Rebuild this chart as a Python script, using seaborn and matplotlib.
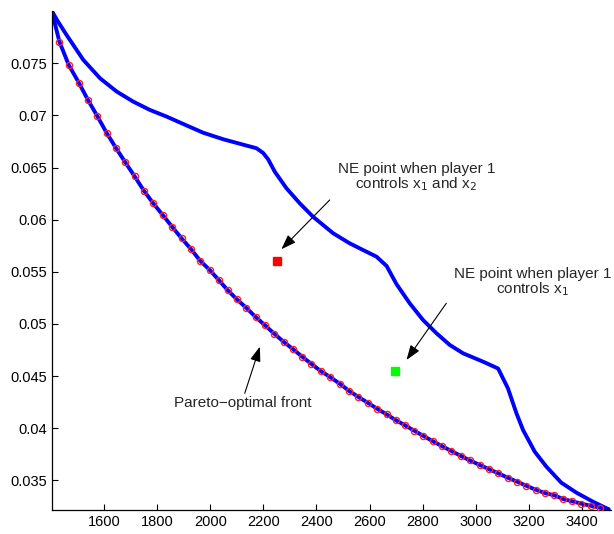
import matplotlib
matplotlib.use("Agg")
import matplotlib.pyplot as plt
import seaborn as sns
import pandas as pd

# Pareto-optimal front (line) and its marked points
pareto_x = [1403, 1432, 1467, 1505, 1540, 1575, 1610, 1645, 1680, 1715, 1750,
            1785, 1821, 1856, 1892, 1927, 1962, 1998, 2033, 2065, 2100,
            2135, 2171, 2206, 2241, 2276, 2311, 2346, 2381, 2416, 2451,
            2489, 2523, 2558, 2593, 2628, 2664, 2698, 2733, 2768, 2803,
            2838, 2873, 2908, 2943, 2978, 3015, 3050, 3085, 3120, 3155,
            3190, 3225, 3260, 3296, 3328, 3362, 3397, 3432, 3467, 3500]
pareto_y = [0.08004, 0.07707, 0.07484, 0.07314, 0.07145, 0.06992, 0.06831, 0.06687,
            0.06550, 0.06416, 0.06278, 0.06157, 0.06045, 0.05933, 0.05821, 0.05719,
            0.05606, 0.05517, 0.05418, 0.05325, 0.05236, 0.05156, 0.05066, 0.04987,
            0.04906, 0.04829, 0.04759, 0.04686, 0.04616, 0.04548, 0.04491, 0.04424,
            0.04357, 0.04299, 0.04244, 0.04187, 0.04133, 0.04078, 0.04028, 0.03976,
            0.03925, 0.03875, 0.03827, 0.03781, 0.03735, 0.03690, 0.03647, 0.03606,
            0.03567, 0.03525, 0.03487, 0.03448, 0.03410, 0.03378, 0.03356, 0.03321,
            0.03299, 0.03276, 0.03256, 0.03237, 0.03222]

# Upper curve
upper_x = [1403, 1423, 1459, 1522, 1585, 1648, 1710, 1773, 1836, 1898, 1973,
           2049, 2137, 2174, 2199, 2218, 2243, 2287, 2337, 2387, 2463, 2525,
           2575, 2626, 2664, 2701, 2751, 2801, 2852, 2902, 2952, 3027, 3084,
           3121, 3153, 3178, 3222, 3266, 3322, 3379, 3441, 3500]
upper_y = [0.08004, 0.07915, 0.07771, 0.07532, 0.07356, 0.07228, 0.07132, 0.07052,
           0.06988, 0.06918, 0.06834, 0.06771, 0.06710, 0.06685, 0.06640, 0.06579,
           0.06460, 0.06301, 0.06157, 0.06028, 0.05869, 0.05773, 0.05709, 0.05645,
           0.05556, 0.05383, 0.05198, 0.05038, 0.04910, 0.04798, 0.04718, 0.04638,
           0.04572, 0.04382, 0.04143, 0.03982, 0.03774, 0.03630, 0.03477, 0.03381,
           0.03295, 0.03222]

# NE points
ne12_x, ne12_y = [2250], [0.05606]
ne1_x, ne1_y = [2697], [0.04551]

x_ticks = [1600, 1800, 2000, 2200, 2400, 2600, 2800, 3000, 3200, 3400]
y_ticks = [0.035, 0.04, 0.045, 0.05, 0.055, 0.06, 0.065, 0.07, 0.075]
y_tick_labels = ["0.035", "0.04", "0.045", "0.05", "0.055", "0.06", "0.065", "0.07", "0.075"]

sns.set_style("ticks")
plt.rcParams["font.family"] = ["Liberation Sans", "DejaVu Sans"]
plt.rcParams["xtick.direction"] = "in"
plt.rcParams["ytick.direction"] = "in"

fig = plt.figure(figsize=(6.14, 5.34), dpi=100)
ax = fig.add_axes([51.7 / 614, 24 / 534, (611.5 - 51.7) / 614, (510 - 10.7) / 534])

blue = "#0000ff"
df_p = pd.DataFrame({"x": pareto_x, "y": pareto_y})
df_u = pd.DataFrame({"x": upper_x, "y": upper_y})
sns.lineplot(data=df_u, x="x", y="y", ax=ax, color=blue, lw=2.8, sort=False,
             estimator=None, zorder=2)
sns.lineplot(data=df_p, x="x", y="y", ax=ax, color=blue, lw=2.8, sort=False,
             estimator=None, zorder=2)
ax.plot(pareto_x[1:-1], pareto_y[1:-1], ls="none", marker="o", ms=4.4,
        mfc="none", mec="#ff2020", mew=1.0, zorder=3)

ax.plot(ne12_x, ne12_y, ls="none", marker="s", ms=5.8, color="#ff0000", zorder=4)
ax.plot(ne1_x, ne1_y, ls="none", marker="s", ms=5.8, color="#00ff00", zorder=4)

arrow = dict(arrowstyle="-|>,head_length=0.9,head_width=0.32", color="black",
             lw=0.8, shrinkA=0, shrinkB=0)
ax.annotate("", xy=(2268, 0.05716), xytext=(2450, 0.06189), arrowprops=arrow)
ax.annotate("", xy=(2739, 0.04654), xytext=(2889, 0.05198), arrowprops=arrow)
ax.annotate("", xy=(2187, 0.04782), xytext=(2130, 0.04335), arrowprops=arrow)

ax.text(2776, 0.06404, "NE point when player 1\ncontrols x$_1$ and x$_2$",
        ha="center", va="center", fontsize=11, linespacing=1.0)
ax.text(3215, 0.05397, "NE point when player 1\ncontrols x$_1$",
        ha="center", va="center", fontsize=11, linespacing=1.0)
ax.text(2124, 0.04239, "Pareto\u2212optimal front",
        ha="center", va="center", fontsize=11)

ax.set_xlim(1403, 3511)
ax.set_ylim(0.03215, 0.08004)
ax.set_xticks(x_ticks)
ax.set_xticklabels([str(v) for v in x_ticks])
ax.set_yticks(y_ticks)
ax.set_yticklabels(y_tick_labels)
ax.tick_params(labelsize=10.5, length=4, width=0.8, colors="black")
ax.set_xlabel("")
ax.set_ylabel("")
for s in ["top", "right"]:
    ax.spines[s].set_visible(False)
for s in ["left", "bottom"]:
    ax.spines[s].set_linewidth(0.9)
    ax.spines[s].set_color("black")

fig.savefig("out.png", dpi=100)
